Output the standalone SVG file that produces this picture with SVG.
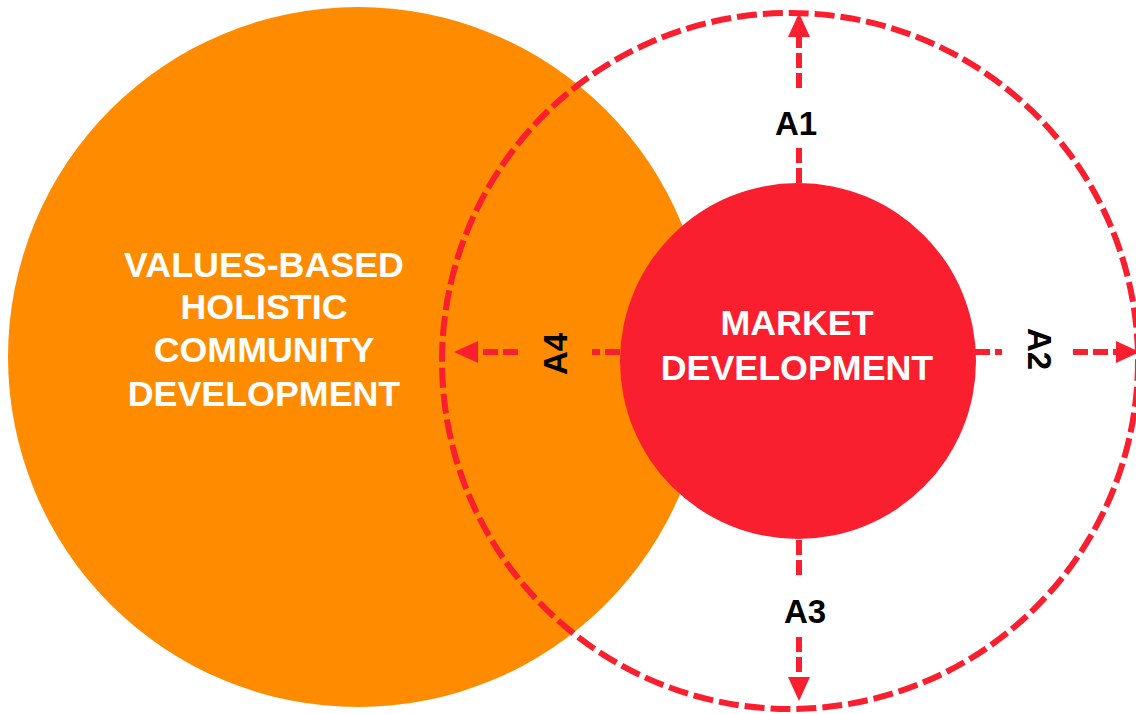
<svg xmlns="http://www.w3.org/2000/svg" width="1136" height="714" viewBox="0 0 1136 714">
  <style>
    .big { font-family: "Liberation Sans", Arial, sans-serif; font-weight: bold; font-size: 35.8px; fill: #ffffff; text-anchor: middle; }
    .lbl { font-family: "Liberation Sans", Arial, sans-serif; font-weight: bold; font-size: 33px; fill: #000000; text-anchor: middle; }
    .conn { stroke: #F91F2E; stroke-width: 6; stroke-dasharray: 15 5; fill: none; }
  </style>
  <defs>
    <marker id="arrow" viewBox="0 0 24 22" refX="0" refY="11" markerWidth="24" markerHeight="22" markerUnits="userSpaceOnUse" orient="auto">
      <path d="M0,0 L24,11 L0,22 z" fill="#F91F2E"/>
    </marker>
  </defs>
  <rect width="1136" height="714" fill="#ffffff"/>
  <g id="values-based">
    <circle cx="358" cy="357" r="350" fill="#FF8C00"/>
  </g>
  <g id="boundary">
    <circle cx="790" cy="361" r="348" fill="none" stroke="#F91F2E" stroke-width="6" stroke-dasharray="20 6"/>
  </g>
  <g id="market">
    <circle cx="798" cy="361" r="178" fill="#F91F2E"/>
  </g>
  <g id="values-text">
    <text class="big" x="264" y="277">VALUES-BASED</text>
    <text class="big" x="264" y="319">HOLISTIC</text>
    <text class="big" x="264" y="362">COMMUNITY</text>
    <text class="big" x="264" y="406">DEVELOPMENT</text>
  </g>
  <g id="market-text">
    <text class="big" x="797" y="335">MARKET</text>
    <text class="big" x="797" y="380">DEVELOPMENT</text>
  </g>
  <g id="connectors">
    <line class="conn" x1="799" y1="183" x2="799" y2="148"/>
    <line class="conn" x1="799" y1="88" x2="799" y2="37" marker-end="url(#arrow)"/>
    <line class="conn" x1="799" y1="540" x2="799" y2="577"/>
    <line class="conn" x1="799" y1="637" x2="799" y2="677" marker-end="url(#arrow)"/>
    <line class="conn" x1="620" y1="352" x2="592" y2="352"/>
    <line class="conn" x1="518" y1="352" x2="478" y2="352" marker-end="url(#arrow)"/>
    <line class="conn" x1="975" y1="352" x2="1002" y2="352"/>
    <line class="conn" x1="1073" y1="352" x2="1116" y2="352" marker-end="url(#arrow)"/>
  </g>
  <g id="labels">
    <text class="lbl" x="796" y="135">A1</text>
    <text class="lbl" x="805" y="623">A3</text>
    <text class="lbl" transform="translate(567,354) rotate(-90)">A4</text>
    <text class="lbl" transform="translate(1028,349) rotate(90)">A2</text>
  </g>
</svg>
